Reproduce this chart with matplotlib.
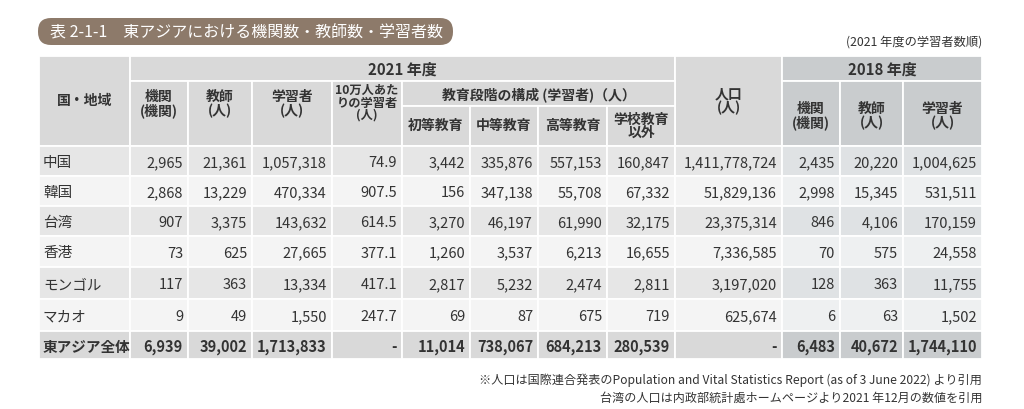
import matplotlib
matplotlib.use("Agg")
import matplotlib.pyplot as plt
from matplotlib.patches import Rectangle, FancyBboxPatch

plt.rcParams['font.family'] = ['Noto Sans CJK JP', 'DejaVu Sans']

# ---------------- data ----------------
countries = ['中国', '韓国', '台湾', '香港', 'モンゴル', 'マカオ', '東アジア全体']
inst_2021 = [2965, 2868, 907, 73, 117, 9, 6939]
teachers_2021 = [21361, 13229, 3375, 625, 363, 49, 39002]
learners_2021 = [1057318, 470334, 143632, 27665, 13334, 1550, 1713833]
per_100k = [74.9, 907.5, 614.5, 377.1, 417.1, 247.7, None]
primary = [3442, 156, 3270, 1260, 2817, 69, 11014]
secondary = [335876, 347138, 46197, 3537, 5232, 87, 738067]
higher = [557153, 55708, 61990, 6213, 2474, 675, 684213]
non_school = [160847, 67332, 32175, 16655, 2811, 719, 280539]
population = [1411778724, 51829136, 23375314, 7336585, 3197020, 625674, None]
inst_2018 = [2435, 2998, 846, 70, 128, 6, 6483]
teachers_2018 = [20220, 15345, 4106, 575, 363, 63, 40672]
learners_2018 = [1004625, 531511, 170159, 24558, 11755, 1502, 1744110]

title = '表 2-1-1　東アジアにおける機関数・教師数・学習者数'
order_note = '(2021 年度の学習者数順)'
footnotes = ['※人口は国際連合発表のPopulation and Vital Statistics Report (as of 3 June 2022) より引用',
             '台湾の人口は内政部統計處ホームページより2021 年12月の数値を引用']

# ---------------- layout ----------------
W, H = 1024, 410
fig = plt.figure(figsize=(W / 100, H / 100), dpi=100)
ax = fig.add_axes([0, 0, 1, 1])
ax.set_xlim(0, W)
ax.set_ylim(H, 0)
ax.axis('off')

xs = [39, 130, 188, 252, 332, 402, 470, 538, 607, 675, 782, 840, 903, 982]
yh = [57, 82, 107, 147]
yr = [147, 177, 207, 237, 268, 300, 332, 360]

HDR = '#d9d9d9'
HDR18 = '#c9ccce'
ODD = '#e6e6e6'
EVEN = '#f4f4f4'
ODD18 = '#dfe2e4'
EVEN18 = '#eef0f1'
TXT = '#333333'
LW = 1.3
HS = 10  # header font size


def cell(x0, x1, y0, y1, color):
    ax.add_patch(Rectangle((x0, y0), x1 - x0, y1 - y0, facecolor=color,
                           edgecolor='white', linewidth=LW))


def lines(xc, yc, txts, size=HS, spacing=13.5, weight='bold'):
    n = len(txts)
    for i, t in enumerate(txts):
        y = yc + (i - (n - 1) / 2) * spacing
        ax.text(xc, y, t, ha='center', va='center', fontsize=size,
                weight=weight, color=TXT)


# title pill
ax.add_patch(FancyBboxPatch((38, 19), 415, 27,
                            boxstyle='round,pad=0,rounding_size=13',
                            facecolor='#8d7a6a', edgecolor='none'))
ax.text(50, 33, title, ha='left', va='center', fontsize=11.5, color='white')
ax.text(982, 42, order_note, ha='right', va='center', fontsize=8.8, color=TXT)

# header cells
cell(xs[0], xs[1], yh[0], yh[3], HDR)
lines((xs[0] + xs[1]) / 2, 101, ['国・地域'])
cell(xs[1], xs[9], yh[0], yh[1], HDR)
lines((xs[1] + xs[9]) / 2, 70, ['2021 年度'], size=10.8)
cell(xs[9], xs[10], yh[0], yh[3], HDR)
lines((xs[9] + xs[10]) / 2, 101.5, ['人口', '(人)'], spacing=13.5)
cell(xs[10], xs[13], yh[0], yh[1], HDR18)
lines((xs[10] + xs[13]) / 2, 70, ['2018 年度'], size=10.8)

sub_2021 = [['機関', '(機関)'], ['教師', '(人)'], ['学習者', '(人)'],
            ['10万人あた', 'りの学習者', '(人)']]
for i, t in enumerate(sub_2021):
    cell(xs[1 + i], xs[2 + i], yh[1], yh[3], HDR)
    if len(t) == 3:
        lines((xs[1 + i] + xs[2 + i]) / 2, 103, t, size=8.8, spacing=12.5)
    else:
        lines((xs[1 + i] + xs[2 + i]) / 2, 104, t, spacing=14)

cell(xs[5], xs[9], yh[1], yh[2], HDR)
lines((xs[5] + xs[9]) / 2, 95, ['教育段階の構成 (学習者)（人）'])
stages = [['初等教育'], ['中等教育'], ['高等教育'], ['学校教育', '以外']]
for i, t in enumerate(stages):
    cell(xs[5 + i], xs[6 + i], yh[2], yh[3], HDR)
    lines((xs[5 + i] + xs[6 + i]) / 2, 125.5 if len(t) == 1 else 126.5, t,
          spacing=13)

sub_2018 = [['機関', '(機関)'], ['教師', '(人)'], ['学習者', '(人)']]
for i, t in enumerate(sub_2018):
    cell(xs[10 + i], xs[11 + i], yh[1], yh[3], HDR18)
    lines((xs[10 + i] + xs[11 + i]) / 2, 115.5, t, spacing=14)


# body
def fmt(v, dec=False):
    if v is None:
        return '-'
    if dec:
        return f'{v:.1f}'
    return f'{v:,}'


columns = [(inst_2021, False), (teachers_2021, False), (learners_2021, False),
           (per_100k, True), (primary, False), (secondary, False),
           (higher, False), (non_school, False), (population, False),
           (inst_2018, False), (teachers_2018, False), (learners_2018, False)]

n = len(countries)
for r in range(n):
    y0, y1 = yr[r], yr[r + 1]
    yc = (y0 + y1) / 2 + 1
    total = (r == n - 1)
    if total:
        c21, c18 = HDR, HDR18
    else:
        c21 = ODD if r % 2 == 0 else EVEN
        c18 = ODD18 if r % 2 == 0 else EVEN18
    wt = 'bold' if total else 'normal'
    cell(xs[0], xs[1], y0, y1, c21)
    ax.text(xs[0] + 4, yc, countries[r], ha='left', va='center',
            fontsize=10.5, weight=wt, color=TXT)
    for c, (vals, dec) in enumerate(columns):
        col_color = c18 if c >= 9 else c21
        cell(xs[1 + c], xs[2 + c], y0, y1, col_color)
        ax.text(xs[2 + c] - 5, yc, fmt(vals[r], dec), ha='right',
                va='center', fontsize=10.5, weight=wt, color=TXT)

# footnotes
ax.text(982, 380, footnotes[0], ha='right', va='center', fontsize=8.7, color=TXT)
ax.text(982, 398, footnotes[1], ha='right', va='center', fontsize=8.7, color=TXT)

fig.savefig('out.png', dpi=100, facecolor='white')
